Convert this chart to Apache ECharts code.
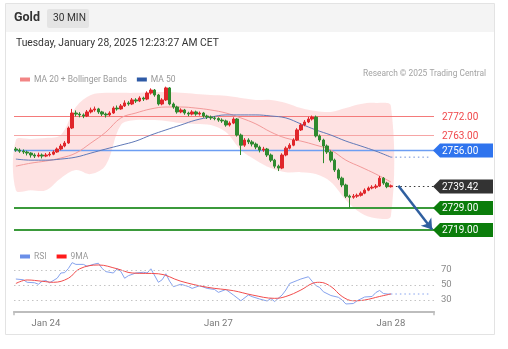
<!DOCTYPE html>
<html>
<head>
<meta charset="utf-8">
<script src="https://cdn.jsdelivr.net/npm/echarts@6/dist/echarts.min.js"></script>
<style>
  html, body { margin: 0; padding: 0; background: #fff; }
  #chart { width: 508px; height: 349px; }
</style>
</head>
<body>
<div id="chart"></div>
<script>
// ---- Gold, 30-minute candles ----
const slotCount = 112;                       // candle slots incl. room for the projection
const dayTicks = [[8, 'Jan 24'], [54, 'Jan 27'], [100, 'Jan 28']];

// [open, close, low, high]
const ohlc = [
  [2756.6, 2756.1, 2755.3, 2757.5], [2756.1, 2755.6, 2754.8, 2756.9], [2755.6, 2755.2, 2754.3, 2756.4],
  [2755.2, 2754.7, 2753.6, 2755.8], [2754.7, 2753.8, 2752.6, 2755.1], [2753.8, 2753.3, 2752.4, 2754.6],
  [2753.3, 2753.8, 2752.7, 2754.9], [2753.8, 2753.3, 2752.2, 2754.5], [2753.3, 2753.8, 2752.8, 2754.7],
  [2753.8, 2754.2, 2753.1, 2755.2], [2754.2, 2755.2, 2753.7, 2756.0], [2755.2, 2756.6, 2754.8, 2757.3],
  [2756.6, 2758.0, 2756.0, 2759.0], [2758.0, 2759.4, 2757.4, 2760.3], [2759.4, 2766.4, 2759.0, 2767.1],
  [2766.4, 2773.4, 2765.9, 2775.3], [2773.4, 2772.9, 2771.8, 2774.6], [2772.9, 2772.5, 2771.4, 2773.8],
  [2772.5, 2772.0, 2771.0, 2773.2], [2772.0, 2773.9, 2771.5, 2774.8], [2773.9, 2774.8, 2773.2, 2775.9],
  [2774.8, 2775.3, 2774.0, 2776.4], [2775.3, 2773.9, 2773.0, 2775.8], [2773.9, 2772.9, 2772.0, 2774.4],
  [2772.9, 2772.5, 2771.3, 2773.6], [2772.5, 2773.4, 2771.9, 2774.2], [2773.4, 2775.7, 2773.0, 2776.5],
  [2775.7, 2775.3, 2774.5, 2776.9], [2775.3, 2776.7, 2774.9, 2777.6], [2776.7, 2778.1, 2776.2, 2779.3],
  [2778.1, 2777.6, 2776.8, 2778.9], [2777.6, 2779.5, 2777.1, 2780.4], [2779.5, 2779.0, 2778.1, 2780.3],
  [2779.0, 2780.4, 2778.5, 2781.2], [2780.4, 2779.9, 2779.0, 2781.0], [2779.9, 2782.7, 2779.4, 2783.5],
  [2782.7, 2784.1, 2782.0, 2784.9], [2784.1, 2781.8, 2781.0, 2784.6], [2781.8, 2777.6, 2776.9, 2782.3],
  [2777.6, 2779.5, 2777.0, 2780.3], [2779.5, 2785.1, 2779.0, 2785.7], [2785.1, 2777.6, 2777.0, 2785.5],
  [2777.6, 2776.2, 2775.4, 2778.3], [2776.2, 2773.9, 2773.1, 2776.8], [2773.9, 2774.8, 2773.3, 2775.6],
  [2774.8, 2773.4, 2772.6, 2775.3], [2773.4, 2772.9, 2771.9, 2774.0], [2772.9, 2773.9, 2772.3, 2774.7],
  [2773.9, 2772.9, 2772.1, 2774.5], [2772.9, 2773.4, 2772.2, 2774.1], [2773.4, 2772.0, 2771.2, 2773.9],
  [2772.0, 2771.5, 2770.6, 2772.6], [2771.5, 2771.1, 2770.2, 2772.2], [2771.1, 2770.8, 2770.0, 2771.9],
  [2770.8, 2770.1, 2769.3, 2771.4], [2770.1, 2769.7, 2768.8, 2770.9], [2769.7, 2767.8, 2767.0, 2770.3],
  [2767.8, 2768.7, 2767.1, 2769.5], [2768.7, 2770.6, 2768.2, 2771.4], [2770.6, 2763.1, 2762.4, 2771.0],
  [2763.1, 2758.4, 2753.8, 2763.8], [2758.4, 2760.8, 2757.6, 2761.7], [2760.8, 2759.9, 2758.9, 2761.6],
  [2759.9, 2758.9, 2757.8, 2760.7], [2758.9, 2757.5, 2756.5, 2759.6], [2757.5, 2756.1, 2755.0, 2758.2],
  [2756.1, 2756.6, 2755.3, 2757.6], [2756.6, 2753.8, 2752.9, 2757.1], [2753.8, 2751.4, 2750.5, 2754.5],
  [2751.4, 2748.6, 2747.6, 2752.0], [2748.6, 2747.7, 2746.3, 2749.3], [2747.7, 2753.8, 2747.2, 2754.6],
  [2753.8, 2757.0, 2753.2, 2757.8], [2757.0, 2758.4, 2756.4, 2759.3], [2758.4, 2760.8, 2757.9, 2761.6],
  [2760.8, 2765.5, 2760.3, 2766.3], [2765.5, 2767.8, 2765.0, 2768.6], [2767.8, 2769.2, 2767.2, 2770.1],
  [2769.2, 2770.6, 2768.7, 2771.6], [2770.6, 2771.5, 2769.9, 2772.2], [2771.5, 2762.7, 2762.0, 2772.2],
  [2762.7, 2760.8, 2759.9, 2763.4], [2760.8, 2758.0, 2750.0, 2761.4], [2758.0, 2755.2, 2754.3, 2758.7],
  [2755.2, 2751.4, 2750.4, 2755.9], [2751.4, 2746.8, 2745.9, 2752.1], [2746.8, 2743.0, 2742.1, 2747.5],
  [2743.0, 2739.8, 2738.8, 2743.7], [2739.8, 2734.6, 2733.7, 2740.4], [2734.6, 2734.1, 2729.0, 2735.3],
  [2734.1, 2734.6, 2733.4, 2735.6], [2734.6, 2735.0, 2733.8, 2735.8], [2735.0, 2736.0, 2734.4, 2736.8],
  [2736.0, 2737.4, 2735.5, 2738.2], [2737.4, 2738.4, 2736.9, 2739.1], [2738.4, 2738.8, 2737.8, 2739.7],
  [2738.8, 2739.3, 2738.0, 2740.2], [2739.3, 2743.0, 2738.9, 2744.0], [2743.0, 2740.7, 2739.9, 2743.5],
  [2740.7, 2739.0, 2738.3, 2741.3], [2739.0, 2739.42, 2738.6, 2740.0]
];

// indicator readings, one every 4 candles
const bandIdx = [0, 4, 8, 12, 16, 20, 24, 28, 32, 36, 40, 44, 48, 52, 56, 60, 64, 68, 72, 76, 80, 84, 88, 92, 96, 100];
const bbUpper = [2760.8, 2761.3, 2761.7, 2763.1, 2776.2, 2781.8, 2782.8, 2782.8, 2782.8, 2783.2, 2783.2, 2782.8, 2782.3,
                 2781.8, 2781.4, 2780.4, 2779.5, 2779.5, 2778.1, 2775.7, 2774.3, 2773.9, 2775.7, 2777.6, 2778.1, 2776.7];
const bbLower = [2737.4, 2737.4, 2737.4, 2743.0, 2746.8, 2744.9, 2749.1, 2767.8, 2770.1, 2770.1, 2769.7, 2768.7, 2768.3,
                 2767.8, 2764.5, 2756.1, 2751.4, 2747.7, 2745.8, 2745.8, 2744.9, 2741.2, 2732.8, 2726.7, 2724.3, 2725.3];
const ma20 = [2748.6, 2750.0, 2751.0, 2752.4, 2754.7, 2759.4, 2764.5, 2771.1, 2773.4, 2775.3, 2776.2, 2776.2, 2775.7,
              2774.8, 2773.4, 2771.1, 2768.3, 2764.5, 2761.7, 2760.3, 2758.4, 2756.1, 2751.4, 2748.2, 2744.9, 2741.2];
const ma50 = [2751.9, 2751.4, 2751.4, 2751.9, 2752.8, 2754.7, 2756.6, 2758.4, 2760.3, 2763.1, 2765.5, 2767.8, 2770.1,
              2771.5, 2772.5, 2772.5, 2772.5, 2772.0, 2771.1, 2768.3, 2765.5, 2763.1, 2760.3, 2758.0, 2755.6, 2752.8];

// RSI(14) and its 9-period average: [candle index, value]
const rsiPts = [[0, 58], [2, 57], [3, 53.6], [5, 53], [6, 51], [7, 55], [8, 56], [9, 53], [11, 59], [12, 66], [13, 66.5],
  [14, 72], [15, 79.8], [16, 77.5], [18, 77.5], [19, 75], [21, 78], [22, 79], [23, 72], [24, 67.8], [26, 66], [27, 71.6],
  [28, 68], [29, 59], [30, 62.4], [32, 66], [34, 67], [35, 66], [36, 71.6], [38, 53.6], [39, 57], [40, 65], [41, 55],
  [42, 47.8], [44, 51], [46, 48], [47, 45.5], [49, 49], [51, 45.5], [53, 44], [54, 40.2], [56, 44], [58, 36.7], [60, 29],
  [62, 36.7], [63, 34.5], [65, 31.3], [67, 28.7], [68, 32], [69, 28], [71, 36.7], [72, 43.3], [73, 52], [75, 56], [76, 58],
  [78, 61], [79, 55], [80, 49.3], [81, 46.7], [82, 41], [84, 36], [86, 33.6], [87, 30], [88, 24.7], [90, 25.3], [91, 29],
  [93, 34], [95, 34.7], [96, 40], [97, 42.7], [98, 38.7], [99, 38], [100, 38]];
const rsiMaPts = [[0, 52], [3, 56.7], [7, 55], [10, 53.6], [14, 59], [17, 71.6], [22, 76.7], [27, 71.6], [31, 66], [38, 65],
  [44, 55], [51, 47], [58, 42.4], [63, 36.7], [69, 32.2], [72, 34.7], [76, 43.3], [79, 52], [81, 53.6], [84, 48], [87, 34.7],
  [90, 29], [93, 30], [97, 34.7], [100, 38]];
const rsiLevels = [70, 50, 30];

// key levels
const lastPrice = 2739.42;
const levelValues = [2772.00, 2763.00, 2756.00, 2739.42, 2729.00, 2719.00];
const levelKinds  = ['res', 'res2', 'pivot', 'last', 'sup', 'sup'];
const targetPrice = 2719.00;

const FONT = 'Roboto, "Liberation Sans", Arial, sans-serif';
const UP = '#e0262b', DOWN = '#2f8a2f';

const LEVEL_STYLE = {
  res:   { line: '#f47a7a', width: 1,   text: '#f0474a' },
  res2:  { line: '#f6a5a5', width: 1,   text: '#f0474a' },
  pivot: { line: '#6d9ef3', width: 1.5, tag: '#2f74ee' },
  last:  { line: '#333333', width: 1,   tag: '#333333', dash: [1.5, 3] },
  sup:   { line: '#3b9a3b', width: 2,   tag: '#0b7d0b' }
};

const tickMap = new Map(dayTicks);
const categories = Array.from({ length: slotCount }, (_, i) => String(i));
const lastIdx = ohlc.length - 1;

function renderLevel(params, api) {
  const v = api.value(0);
  const kind = levelKinds[params.dataIndex];
  const st = LEVEL_STYLE[kind];
  const cs = params.coordSys;
  const y = Math.round(api.coord([0, v])[1]) + (st.width % 2 ? 0.5 : 0);
  const x0 = cs.x, x1 = cs.x + cs.width;
  const children = [];
  const xs = kind === 'last' ? api.coord([lastIdx, v])[0] + 5 : x0;
  children.push({
    type: 'line',
    shape: { x1: xs, y1: y, x2: st.tag ? x1 + 2 : x1, y2: y },
    style: { stroke: st.line, lineWidth: st.width, lineDash: st.dash || null }
  });
  const label = v.toFixed(2);
  if (st.tag) {
    const h = 7;
    children.push({
      type: 'polygon',
      shape: { points: [[x1 - 1, y], [x1 + 6, y - h], [x1 + 59, y - h], [x1 + 59, y + h], [x1 + 6, y + h]] },
      style: { fill: st.tag }
    });
    children.push({
      type: 'text',
      style: { text: label, x: x1 + 8, y: y + 0.5, fill: '#fff', font: '10px ' + FONT, align: 'left', verticalAlign: 'middle' }
    });
  } else {
    children.push({
      type: 'text',
      style: { text: label, x: x1 + 8, y: y + 0.5, fill: st.text, font: '10px ' + FONT, align: 'left', verticalAlign: 'middle' }
    });
  }
  return { type: 'group', children };
}

function renderBand(params, api) {
  const top = bandIdx.map((i, k) => api.coord([i, bbUpper[k]]));
  const bottom = bandIdx.map((i, k) => api.coord([i, bbLower[k]])).reverse();
  return {
    type: 'polygon',
    shape: { points: top.concat(bottom), smooth: 0.35 },
    style: { fill: 'rgba(250,110,110,0.2)' }
  };
}

const chart = echarts.init(document.getElementById('chart'), null, { renderer: 'canvas' });

chart.setOption({
  animation: false,
  backgroundColor: '#fff',
  textStyle: { fontFamily: FONT },
  graphic: [
    { type: 'rect', z: -10, shape: { x: 5.5, y: 3.5, width: 489, height: 331 }, style: { fill: '#fff', stroke: '#e3e3e3', lineWidth: 1 } },
    { type: 'rect', z: -9, shape: { x: 6, y: 4, width: 488, height: 28 }, style: { fill: '#f4f4f4' } },
    { type: 'text', left: 14, top: 11, style: { text: 'Gold', font: 'bold 12.5px ' + FONT, fill: '#333' } },
    { type: 'rect', shape: { x: 47, y: 9, width: 42, height: 19, r: 2 }, style: { fill: '#e4e4e4' } },
    { type: 'text', left: 53, top: 13, style: { text: '30 MIN', font: '10.2px ' + FONT, fill: '#333' } },
    { type: 'text', left: 16, top: 38, style: { text: 'Tuesday, January 28, 2025 12:23:27 AM CET', font: '10.3px ' + FONT, fill: '#333' } },
    { type: 'text', right: 22, top: 70, style: { text: 'Research \u00a9 2025 Trading Central', font: '8.4px ' + FONT, fill: '#a3a3a3' } }
  ],
  legend: [
    {
      left: 15, top: 70, itemWidth: 10, itemHeight: 4, itemGap: 10, icon: 'rect', selectedMode: false,
      textStyle: { fontSize: 8.5, color: '#9a9a9a', padding: [0, 0, 0, -1] },
      data: [
        { name: 'MA 20 + Bollinger Bands', itemStyle: { color: '#f28585' } },
        { name: 'MA 50', itemStyle: { color: '#2e5aa6' } }
      ]
    },
    {
      left: 15, top: 247, itemWidth: 10, itemHeight: 4, itemGap: 10, icon: 'rect', selectedMode: false,
      textStyle: { fontSize: 8.5, color: '#9a9a9a', padding: [0, 0, 0, -1] },
      data: [
        { name: 'RSI', itemStyle: { color: '#6b8fe8' } },
        { name: '9MA', itemStyle: { color: '#ff1a1a' } }
      ]
    }
  ],
  grid: [
    { left: 14, right: 74, top: 86, height: 150 },
    { left: 14, right: 74, top: 258.75, height: 52.5 }
  ],
  xAxis: [
    { type: 'category', gridIndex: 0, data: categories, boundaryGap: true, show: false },
    {
      type: 'category', gridIndex: 1, data: categories, boundaryGap: true,
      axisLine: { show: true, lineStyle: { color: '#bdbdbd', width: 2 } },
      axisTick: { show: true, length: 4, interval: (i) => i === 0 || i === slotCount, lineStyle: { color: '#bdbdbd', width: 1.5 } },
      axisLabel: {
        interval: (i) => tickMap.has(i),
        formatter: (val, i) => tickMap.get(i) || '',
        color: '#7a7a7a', fontSize: 9.5, margin: 7
      },
      splitLine: { show: false }
    }
  ],
  yAxis: [
    { type: 'value', gridIndex: 0, min: 2716, max: 2786, show: false, splitLine: { show: false } },
    { type: 'value', gridIndex: 1, min: 15, max: 85, show: false, splitLine: { show: false } }
  ],
  series: [
    {
      name: 'Bands', type: 'custom', xAxisIndex: 0, yAxisIndex: 0, z: 1, silent: true,
      data: [[0, bbUpper[0]]], renderItem: renderBand, clip: false
    },
    {
      name: 'Levels', type: 'custom', xAxisIndex: 0, yAxisIndex: 0, z: 2, silent: true, clip: false,
      encode: { y: 0 },
      data: levelValues.map(v => [v]),
      renderItem: renderLevel
    },
    {
      name: 'MA 20 + Bollinger Bands', type: 'line', xAxisIndex: 0, yAxisIndex: 0, z: 3,
      data: bandIdx.map((i, k) => [i, ma20[k]]), smooth: 0.4, symbol: 'none',
      lineStyle: { color: '#f39a9a', width: 1 }, itemStyle: { color: '#f28585' }
    },
    {
      name: 'MA 50', type: 'line', xAxisIndex: 0, yAxisIndex: 0, z: 3,
      data: bandIdx.map((i, k) => [i, ma50[k]]), smooth: 0.4, symbol: 'none',
      lineStyle: { color: '#6079b8', width: 1 }, itemStyle: { color: '#2e5aa6' }
    },
    {
      name: 'MA 50 ext', type: 'line', xAxisIndex: 0, yAxisIndex: 0, z: 3, symbol: 'none', silent: true,
      data: [[lastIdx, ma50[ma50.length - 1]], [lastIdx + 10, ma50[ma50.length - 1]]],
      lineStyle: { color: '#6f8fd6', width: 1, type: [1.5, 3] }
    },
    {
      name: 'Gold', type: 'candlestick', xAxisIndex: 0, yAxisIndex: 0, z: 4, barWidth: 3,
      data: ohlc,
      itemStyle: { color: UP, color0: DOWN, borderColor: UP, borderColor0: DOWN, borderWidth: 1 },
      markLine: {
        silent: true, symbol: ['none', 'arrow'], symbolSize: 10,
        lineStyle: { color: '#2f5f9f', width: 2.5, type: 'solid' },
        label: { show: false },
        data: [[{ coord: [String(ohlc.length + 1), lastPrice] }, { coord: [String(ohlc.length + 10), targetPrice] }]]
      }
    },
    {
      name: 'RSI', type: 'line', xAxisIndex: 1, yAxisIndex: 1, z: 3,
      data: rsiPts, symbol: 'none', lineStyle: { color: '#86a3ee', width: 1 }, itemStyle: { color: '#6b8fe8' },
      markLine: {
        silent: true, symbol: 'none',
        lineStyle: { color: '#c4c4c4', width: 1, type: [1.5, 3] },
        label: { show: true, position: 'end', color: '#8a8a8a', fontSize: 9.5, distance: 7, formatter: (p) => String(p.value) },
        data: rsiLevels.map(v => ({ yAxis: v }))
      }
    },
    {
      name: 'RSI ext', type: 'line', xAxisIndex: 1, yAxisIndex: 1, z: 3, symbol: 'none', silent: true,
      data: [[lastIdx, rsiPts[rsiPts.length - 1][1]], [lastIdx + 10, rsiPts[rsiPts.length - 1][1]]],
      lineStyle: { color: '#86a3ee', width: 1, type: [1.5, 3] }
    },
    {
      name: '9MA', type: 'line', xAxisIndex: 1, yAxisIndex: 1, z: 4,
      data: rsiMaPts, smooth: 0.4, symbol: 'none', lineStyle: { color: '#f24d4d', width: 1 }, itemStyle: { color: '#ff1a1a' }
    }
  ]
});
</script>
</body>
</html>
